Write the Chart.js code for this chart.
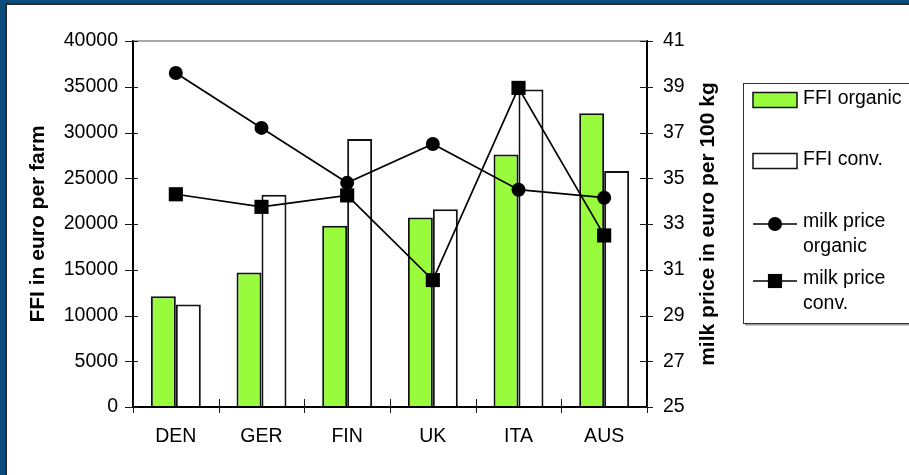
<!DOCTYPE html>
<html>
<head>
<meta charset="utf-8">
<title>FFI and milk price</title>
<script src="https://cdn.jsdelivr.net/npm/chart.js@4.4.1/dist/chart.umd.min.js"></script>
<style>
  html, body { margin: 0; padding: 0; background: #fff; }
  #frame { position: relative; width: 909px; height: 475px; background: #fff; overflow: hidden; }
  .edge { position: absolute; }
  #blueTop { left: 0; top: 0; width: 909px; height: 3px; background: #0a4c7c; }
  #blueLeft { left: 0; top: 0; width: 5px; height: 475px; background: #0a4c7c; }
  #darkTop { left: 5px; top: 3px; width: 904px; height: 2px; background: #2b2b2b; }
  #darkLeft { left: 5px; top: 3px; width: 2px; height: 472px; background: #2b2b2b; }
  #chart { position: absolute; left: 0; top: 0; }
</style>
</head>
<body>
<div id="frame">
  <div class="edge" id="blueTop"></div>
  <div class="edge" id="blueLeft"></div>
  <div class="edge" id="darkTop"></div>
  <div class="edge" id="darkLeft"></div>
  <canvas id="chart" width="909" height="475"></canvas>
</div>
<script>
// farm family income (euro per farm) and milk price (euro per 100 kg)
const countries = ['DEN', 'GER', 'FIN', 'UK', 'ITA', 'AUS'];
const ffiOrganic = [12100, 14700, 19800, 20700, 27600, 32100];
const ffiConv = [11200, 23200, 29300, 21600, 34700, 25800];
const milkOrganic = [39.6, 37.2, 34.8, 36.5, 34.5, 34.15];
const milkConv = [34.3, 33.75, 34.25, 30.55, 38.95, 32.5];
const seriesNames = ['FFI organic', 'FFI conv.', 'milk price organic', 'milk price conv.'];
const ffiRange = [0, 40000, 5000];
const milkRange = [25, 41, 2];
const leftTitle = 'FFI in euro per farm';
const rightTitle = 'milk price in euro per 100 kg';

const FONT = "'Liberation Sans', Arial, sans-serif";
const GREEN = '#98fc3c';

// tick marks that cross the axis lines, top rule and right axis title
const axisDecor = {
  id: 'axisDecor',
  afterDraw(chart) {
    const { ctx, chartArea: a, scales: { x, y, y1 } } = chart;
    ctx.save();
    ctx.strokeStyle = '#8a8a8a';
    ctx.lineWidth = 1.5;
    ctx.beginPath();
    ctx.moveTo(a.left, a.top);
    ctx.lineTo(a.right, a.top);
    ctx.stroke();

    ctx.strokeStyle = '#1a1a1a';
    ctx.lineWidth = 1;
    ctx.beginPath();
    y.ticks.forEach(t => {
      const py = Math.round(y.getPixelForValue(t.value)) + 0.5;
      ctx.moveTo(a.left - 8, py);
      ctx.lineTo(a.left + 5, py);
    });
    y1.ticks.forEach(t => {
      const py = Math.round(y1.getPixelForValue(t.value)) + 0.5;
      ctx.moveTo(a.right - 7, py);
      ctx.lineTo(a.right + 6, py);
    });
    const half = (x.getPixelForValue(1) - x.getPixelForValue(0)) / 2;
    for (let i = 0; i <= countries.length; i++) {
      const px = Math.round(x.getPixelForValue(i) - half) + 0.5;
      ctx.moveTo(px, a.bottom - 8);
      ctx.lineTo(px, a.bottom + 6);
    }
    ctx.stroke();

    ctx.fillStyle = '#000';
    ctx.font = 'bold 21px ' + FONT;
    ctx.textAlign = 'center';
    ctx.textBaseline = 'middle';
    ctx.translate(a.right + 61, (a.top + a.bottom) / 2);
    ctx.rotate(-Math.PI / 2);
    ctx.fillText(rightTitle, 0, 0);
    ctx.restore();
  }
};

// boxed legend on the right with wrapped labels
const sideLegend = {
  id: 'sideLegend',
  afterDraw(chart) {
    const { ctx } = chart;
    const ds = chart.data.datasets;
    const box = { left: 743, top: 83, bottom: 323 };
    const rows = [100, 161, 224, 281];
    const swX = 753, swW = 44, textX = 803, lineGap = 25.5;
    ctx.save();
    ctx.fillStyle = '#9a9a9a';
    ctx.fillRect(box.left + 2, box.bottom + 1, chart.width, 1.5);
    ctx.strokeStyle = '#333';
    ctx.lineWidth = 1;
    ctx.strokeRect(box.left + 0.5, box.top + 0.5, chart.width, box.bottom - box.top);

    ctx.font = '19.5px ' + FONT;
    ctx.textBaseline = 'middle';
    ctx.textAlign = 'left';
    const maxW = chart.width - textX;
    ds.forEach((d, i) => {
      const cy = rows[i];
      if (d.type === 'line') {
        ctx.strokeStyle = d.borderColor;
        ctx.lineWidth = d.borderWidth;
        ctx.beginPath();
        ctx.moveTo(swX, cy);
        ctx.lineTo(swX + swW, cy);
        ctx.stroke();
        ctx.fillStyle = d.pointBackgroundColor;
        Chart.helpers.drawPoint(ctx, { pointStyle: d.pointStyle, radius: d.pointRadius, borderWidth: 0 }, swX + swW / 2, cy);
      } else {
        ctx.fillStyle = d.backgroundColor;
        ctx.fillRect(swX, cy - 7.5, swW, 15);
        ctx.strokeStyle = d.borderColor;
        ctx.lineWidth = 1.5;
        ctx.strokeRect(swX, cy - 7.5, swW, 15);
      }
      // simple word wrap
      const lines = [];
      let cur = '';
      d.label.split(' ').forEach(w => {
        const test = cur ? cur + ' ' + w : w;
        if (cur && ctx.measureText(test).width > maxW) { lines.push(cur); cur = w; } else { cur = test; }
      });
      lines.push(cur);
      ctx.fillStyle = '#000';
      const ty = lines.length > 1 ? cy - 2.5 : cy - 1;
      lines.forEach((ln, k) => ctx.fillText(ln, textX, ty + k * lineGap));
    });
    ctx.restore();
  }
};

new Chart(document.getElementById('chart'), {
  data: {
    labels: countries,
    datasets: [
      {
        type: 'bar', label: seriesNames[0], data: ffiOrganic, yAxisID: 'y', order: 2,
        backgroundColor: GREEN, borderColor: '#111', borderWidth: 2,
        categoryPercentage: 0.583, barPercentage: 1
      },
      {
        type: 'bar', label: seriesNames[1], data: ffiConv, yAxisID: 'y', order: 2,
        backgroundColor: '#fff', borderColor: '#111', borderWidth: 2,
        categoryPercentage: 0.583, barPercentage: 1
      },
      {
        type: 'line', label: seriesNames[2], data: milkOrganic, yAxisID: 'y1', order: 1,
        borderColor: '#000', borderWidth: 1.7, pointStyle: 'circle', pointRadius: 7,
        pointBackgroundColor: '#000', pointBorderWidth: 0, tension: 0
      },
      {
        type: 'line', label: seriesNames[3], data: milkConv, yAxisID: 'y1', order: 1,
        borderColor: '#000', borderWidth: 1.7, pointStyle: 'rect', pointRadius: 10,
        pointBackgroundColor: '#000', pointBorderWidth: 0, tension: 0
      }
    ]
  },
  options: {
    responsive: false,
    animation: false,
    events: [],
    layout: { padding: { left: 0, right: 0, top: 41, bottom: 0 } },
    plugins: { legend: { display: false }, tooltip: { enabled: false } },
    scales: {
      x: {
        grid: { display: false, drawTicks: false },
        border: { display: true, color: '#000', width: 2, z: 1 },
        ticks: { color: '#000', padding: 18, font: { family: FONT, size: 19.5 } },
        afterFit: s => { s.height = 68; }
      },
      y: {
        position: 'left',
        min: ffiRange[0], max: ffiRange[1],
        grid: { display: false, drawTicks: false },
        border: { display: true, color: '#000', width: 2, z: 1 },
        ticks: {
          stepSize: ffiRange[2], color: '#000', padding: 15, font: { family: FONT, size: 19.5 },
          callback: v => String(v)
        },
        title: {
          display: true, text: leftTitle, color: '#000',
          font: { family: FONT, size: 21, weight: 'bold' }, padding: { top: 26, bottom: 0 }
        },
        afterFit: s => { s.width = 133; }
      },
      y1: {
        position: 'right',
        min: milkRange[0], max: milkRange[1],
        grid: { display: false, drawTicks: false },
        border: { display: true, color: '#000', width: 2, z: 1 },
        ticks: {
          stepSize: milkRange[2], color: '#000', padding: 16, font: { family: FONT, size: 19.5 },
          callback: v => String(v)
        },
        afterFit: s => { s.width = 262; }
      }
    }
  },
  plugins: [axisDecor, sideLegend]
});
</script>
</body>
</html>
